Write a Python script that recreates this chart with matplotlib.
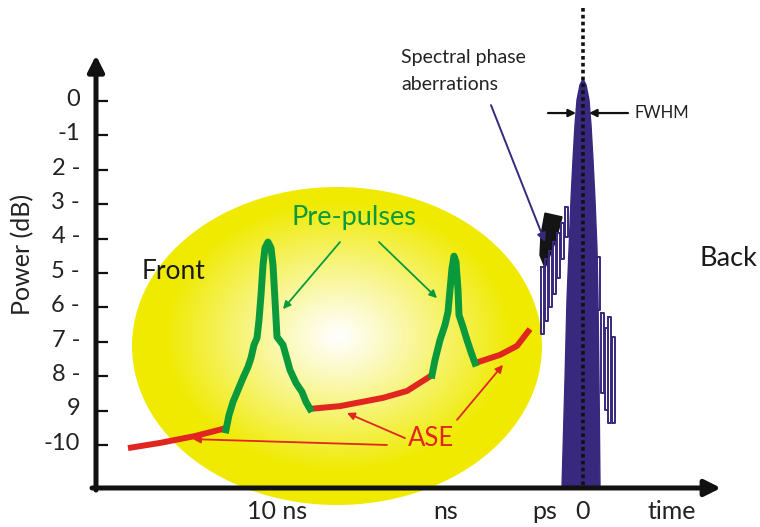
import numpy as np
import matplotlib.pyplot as plt
from matplotlib.patches import Ellipse, Polygon

plt.rcParams['font.family'] = ['Lato', 'DejaVu Sans']

## values: x is the (schematic) time axis, y is power in dB
ytick_pos = [0, -1, -2, -3, -4, -5, -6, -7, -8, -9, -10]
ytick_lab = ['0', '-1', '2 -', '3 -', '4 -', '5 -', '6 -', '7 -', '8 -', '9', '-10']
xtick_pos = [277, 446, 545, 583, 672]
xtick_lab = ['10 ns', 'ns', 'ps', '0', 'time']

# ASE background (three red pieces)
ase1_x = [128, 160, 195, 226]
ase1_y = [-10.09, -9.94, -9.74, -9.51]
ase2_x = [310, 340, 383, 407, 432]
ase2_y = [-8.95, -8.87, -8.63, -8.43, -7.97]
ase3_x = [475, 500, 517, 530]
ase3_y = [-7.62, -7.38, -7.12, -6.63]

# pre-pulses (green)
pp1_x = [226, 229, 233, 238, 243, 248, 251, 254, 257, 259, 261, 263, 265, 268,
         271, 273, 275, 277, 283, 290, 296, 302, 306, 310]
pp1_y = [-9.56, -9.13, -8.75, -8.40, -8.05, -7.73, -7.47, -7.09, -6.89, -6.37,
         -5.64, -4.77, -4.27, -4.10, -4.27, -4.77, -5.79, -6.86, -7.09, -7.82,
         -8.20, -8.46, -8.75, -8.95]
pp2_x = [432, 435, 440, 445, 448, 450, 452, 454, 456, 458, 459, 463, 467, 471, 475]
pp2_y = [-7.97, -7.53, -6.95, -6.51, -6.13, -5.49, -4.86, -4.51, -4.68, -5.49,
         -6.22, -6.57, -6.95, -7.30, -7.62]

# main pulse envelope
main_x = [562, 565, 567, 569, 571, 573, 575, 577, 580, 583,
          586, 589, 591, 593, 595, 597, 598, 599, 600]
main_y = [-11.25, -8.11, -5.79, -4.33, -2.88, -1.72, -0.70, 0.03, 0.47, 0.64,
          0.47, 0.03, -0.70, -1.72, -2.88, -4.33, -5.79, -8.11, -11.25]

# spectral phase aberration side lobes (narrow loops)
lobeL_x = [541, 545, 549, 553, 557, 561, 565]
lobeL_top = [-4.83, -4.60, -4.36, -4.10, -3.85, -3.55, -3.08]
lobeL_bot = [-6.76, -6.40, -6.00, -5.60, -5.15, -4.60, -3.95]
lobeR_x = [597, 601, 605, 608, 612]
lobeR_top = [-4.53, -6.16, -6.60, -6.28, -6.86]
lobeR_bot = [-6.08, -8.49, -8.98, -9.36, -9.36]
blob_x = [545, 562, 556, 545, 540, 541]
blob_y = [-3.26, -3.37, -4.04, -4.85, -4.48, -3.90]

GREEN = '#0a9a3c'
RED = '#e0261f'
NAVY = '#38287e'

fig = plt.figure(figsize=(7.6, 5.27), dpi=100)
ax = fig.add_axes([0, 0, 1, 1])
ax.set_xlim(0, 760)
ax.set_ylim(-12.384, 2.936)
ax.axis('off')

# yellow ellipse with a white centre
ell = Ellipse((337, -7.122), 410, 9.244, facecolor='none', edgecolor='none')
ax.add_patch(ell)
gx = np.linspace(132, 542, 400)
gy = np.linspace(-11.75, -2.49, 320)
X, Y = np.meshgrid(gx, gy)
r = np.sqrt(((X - 338) / 205) ** 2 + ((Y + 6.85) / 4.622) ** 2)
f = np.clip(r / 0.85, 0, 1) ** 1.1
yellow = np.array([0.94, 0.918, 0.0])
img = (1 - f[..., None]) * np.ones(3) + f[..., None] * yellow
im = ax.imshow(img, extent=[132, 542, -11.75, -2.49], origin='lower',
               aspect='auto', zorder=0, interpolation='bilinear')
im.set_clip_path(ell)

# axes with arrow heads
ax.annotate('', xy=(96, 1.33), xytext=(96, -11.31),
            arrowprops=dict(arrowstyle='-|>', lw=3.6, color='#111111',
                            mutation_scale=24, shrinkA=0, shrinkB=0), zorder=5)
ax.annotate('', xy=(721, -11.25), xytext=(92, -11.25),
            arrowprops=dict(arrowstyle='-|>', lw=3.6, color='#111111',
                            mutation_scale=24, shrinkA=0, shrinkB=0), zorder=5)
ax.hlines(ytick_pos, 96, 108, color='#111111', lw=1.6, zorder=5)
for p, t in zip(ytick_pos, ytick_lab):
    ax.text(80, p + 0.05, t, ha='right', va='center', fontsize=17, color='#222222')
for p, t in zip(xtick_pos, xtick_lab):
    ax.text(p, -11.93, t, ha='center', va='center', fontsize=18, color='#222222')
ax.text(23, -4.45, 'Power (dB)', rotation=90, ha='center', va='center',
        fontsize=18, color='#222222')

# ASE and pre-pulses
for xs, ys in [(ase1_x, ase1_y), (ase2_x, ase2_y), (ase3_x, ase3_y)]:
    ax.plot(xs, ys, color=RED, lw=4.3, solid_capstyle='butt', zorder=3)
ax.plot(pp1_x, pp1_y, color=GREEN, lw=5, solid_joinstyle='round', zorder=3)
ax.plot(pp2_x, pp2_y, color=GREEN, lw=5, solid_joinstyle='round', zorder=3)

# main pulse
ax.fill(main_x, main_y, color=NAVY, zorder=3)
ax.add_patch(Polygon(list(zip(blob_x, blob_y)), closed=True, color='#141414', zorder=3))
for x0, t, b in zip(lobeL_x + lobeR_x, lobeL_top + lobeR_top, lobeL_bot + lobeR_bot):
    ax.plot([x0, x0, x0 + 3, x0 + 3, x0], [t, b, b, t, t], color=NAVY, lw=1.4, zorder=4)
ax.plot([583, 583], [2.70, -11.25], color='#111111', lw=2.6,
        linestyle=(0, (1, 0.9)), zorder=4)

# labels and pointers
ax.text(174, -4.97, 'Front', ha='center', va='center', fontsize=19, color='#1a1a1a')
ax.text(728, -4.59, 'Back', ha='center', va='center', fontsize=19.5, color='#1a1a1a')
ax.text(354, -3.40, 'Pre-pulses', ha='center', va='center', fontsize=19.5, color=GREEN)
ax.text(431, -9.80, 'ASE', ha='center', va='center', fontsize=18.5, color=RED)
ax.text(401, 1.25, 'Spectral phase', ha='left', va='center', fontsize=14, color='#222222')
ax.text(401, 0.47, 'aberrations', ha='left', va='center', fontsize=14, color='#222222')
ax.text(634, -0.35, 'FWHM', ha='left', va='center', fontsize=12, color='#222222')

def pointer(x0, y0, x1, y1, col, lw=1.3, ms=11):
    ax.annotate('', xy=(x1, y1), xytext=(x0, y0),
                arrowprops=dict(arrowstyle='-|>', color=col, lw=lw,
                                mutation_scale=ms, shrinkA=0, shrinkB=0), zorder=4)

pointer(340, -4.10, 283, -6.05, GREEN)
pointer(379, -4.10, 437, -5.73, GREEN)
pointer(405, -9.80, 347, -9.07, RED)
pointer(457, -9.27, 503, -7.67, RED)
pointer(387, -10.00, 193, -9.83, RED)
pointer(491, -0.12, 545, -4.10, NAVY, lw=1.4, ms=13)
pointer(548, -0.35, 576, -0.35, '#111111', lw=1.6, ms=11)
pointer(628, -0.35, 589, -0.35, '#111111', lw=1.6, ms=11)

fig.savefig('out.png', dpi=100)
